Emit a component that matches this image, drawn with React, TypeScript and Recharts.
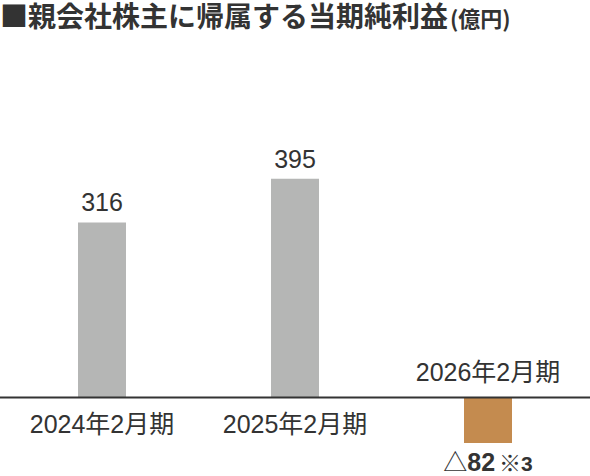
import { BarChart, Bar, XAxis, YAxis, Cell, LabelList, ReferenceLine } from 'recharts';

const categories = ['2024年2月期', '2025年2月期', '2026年2月期'];
const profits = [316, 395, -82];
const valueLabels = ['316', '395', '82'];
const signs = ['', '', '△'];
const notes = ['', '', '3'];
const barColors = ['#b5b6b5', '#b5b6b5', '#c48b4f'];

const data = categories.map((name, i) => ({ name, value: profits[i] }));

const FONT = '"Liberation Sans", Arial, "Noto Sans CJK JP", sans-serif';
const CJK = '"Noto Sans CJK JP", sans-serif';
const TEXT = '#333333';

function BarLabels(props: any) {
  const { x, y, width, height, index } = props;
  const v = profits[index];
  const top = Math.min(y, y + height);
  const bottom = Math.max(y, y + height);
  const cx = x + width / 2;
  const zero = v >= 0 ? bottom : top;
  const end = v >= 0 ? top : bottom;
  return (
    <g fontFamily={FONT} fill={TEXT}>
      <text x={cx} y={v >= 0 ? zero + 35 : zero - 17} textAnchor="middle" fontSize={25}>
        {categories[index]}
      </text>
      <text x={cx} y={v >= 0 ? end - 11 : end + 28} textAnchor="middle" fontSize={25}>
        {signs[index] ? (
          <tspan fontFamily={CJK} fontSize={24}>
            {signs[index]}
          </tspan>
        ) : null}
        <tspan fontWeight={v >= 0 ? 'normal' : 'bold'}>{valueLabels[index]}</tspan>
        {notes[index] ? (
          <>
            <tspan fontFamily={CJK} fontSize={22} fontWeight="bold" dx={4}>
              ※
            </tspan>
            <tspan fontSize={21} fontWeight="bold">
              {notes[index]}
            </tspan>
          </>
        ) : null}
      </text>
    </g>
  );
}

export default function App() {
  return (
    <div style={{ position: 'absolute', left: 0, top: 0, width: 590, height: 476, background: '#fff' }}>
      <div
        style={{
          position: 'absolute',
          left: 0,
          top: -2,
          fontFamily: CJK,
          fontWeight: 'bold',
          fontSize: 28,
          lineHeight: '34px',
          color: TEXT,
          whiteSpace: 'nowrap',
        }}
      >
        ■親会社株主に帰属する当期純利益
        <span style={{ fontSize: 22, fontWeight: 'bold', marginLeft: 2 }}>(億円)</span>
      </div>
      <BarChart width={590} height={476} data={data} margin={{ top: 65, right: 0, bottom: 23, left: 0 }}>
        <XAxis dataKey="name" hide padding={{ left: 5, right: 6 }} />
        <YAxis hide domain={[-100, 600]} />
        <Bar dataKey="value" barSize={48} isAnimationActive={false}>
          {data.map((d, i) => (
            <Cell key={d.name} fill={barColors[i]} />
          ))}
          <LabelList dataKey="value" content={BarLabels} />
        </Bar>
        <ReferenceLine y={0} stroke="#333" strokeWidth={2} />
      </BarChart>
    </div>
  );
}
